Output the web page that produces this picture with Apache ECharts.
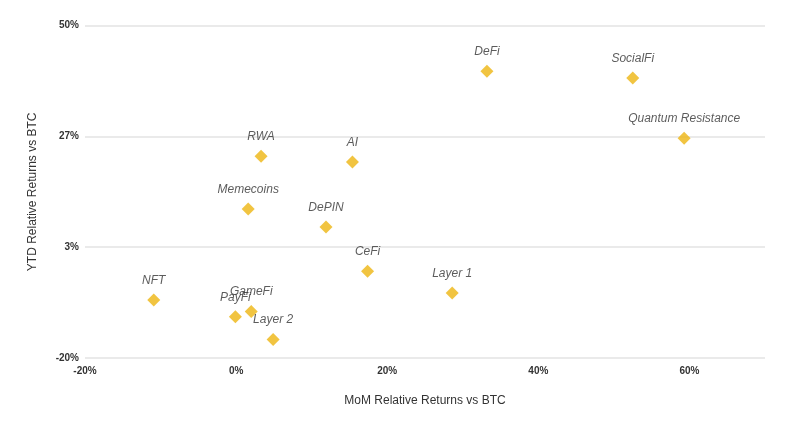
<!DOCTYPE html>
<html><head><meta charset="utf-8">
<script src="https://cdn.jsdelivr.net/npm/echarts@6/dist/echarts.min.js"></script>
<style>html,body{margin:0;padding:0;background:#fff}#c{width:800px;height:434px}</style>
</head><body><div id="c"></div>
<script>
const categories = ['DeFi','SocialFi','Quantum Resistance','RWA','AI','Memecoins','DePIN','CeFi','Layer 1','NFT','PayFi','GameFi','Layer 2'];
const momValues = [33.2, 52.5, 59.3, 3.3, 15.4, 1.6, 11.9, 17.4, 28.6, -10.9, -0.1, 2.0, 4.9];
const ytdValues = [40.4, 39.0, 26.3, 22.5, 21.3, 11.4, 7.6, -1.7, -6.3, -7.8, -11.3, -10.2, -16.1];
const yMin = -20, yMax = 50;

const data = categories.map((n, i) => ({ name: n, value: [momValues[i], ytdValues[i] - yMin] }));
const chart = echarts.init(document.getElementById('c'));
chart.setOption({
  animation: false,
  grid: { left: 85, right: 35, top: 25.7, bottom: 76, containLabel: false },
  xAxis: {
    type: 'value', min: -20, max: 70, interval: 20,
    axisLine: { show: false }, axisTick: { show: false }, splitLine: { show: false },
    axisLabel: { showMaxLabel: false, formatter: v => v + '%', fontFamily: 'Liberation Sans', fontWeight: 'bold', fontSize: 10, color: '#333', margin: 8 },
    name: 'MoM Relative Returns vs BTC', nameLocation: 'middle', nameGap: 37,
    nameTextStyle: { fontFamily: 'Liberation Sans', fontSize: 12, color: '#333' }
  },
  yAxis: {
    type: 'value', min: 0, max: yMax - yMin, interval: (yMax - yMin) / 3,
    axisLine: { show: false }, axisTick: { show: false },
    splitLine: { lineStyle: { color: '#e3e3e3', width: 1.5 } },
    axisLabel: { formatter: v => Math.round(v + yMin) + '%', fontFamily: 'Liberation Sans', fontWeight: 'bold', fontSize: 10, color: '#333', margin: 6 },
    name: 'YTD Relative Returns vs BTC', nameLocation: 'middle', nameGap: 46,
    nameTextStyle: { fontFamily: 'Liberation Sans', fontSize: 12, color: '#333' }
  },
  series: [{
    type: 'scatter', symbol: 'diamond', symbolSize: 13,
    itemStyle: { color: '#EDB512' },
    data: data,
    label: { show: true, position: 'top', distance: 7, formatter: p => p.name,
      fontFamily: 'Liberation Sans', fontStyle: 'italic', fontSize: 12, color: '#333' },
    labelLine: { show: false }
  }]
});
</script></body></html>
